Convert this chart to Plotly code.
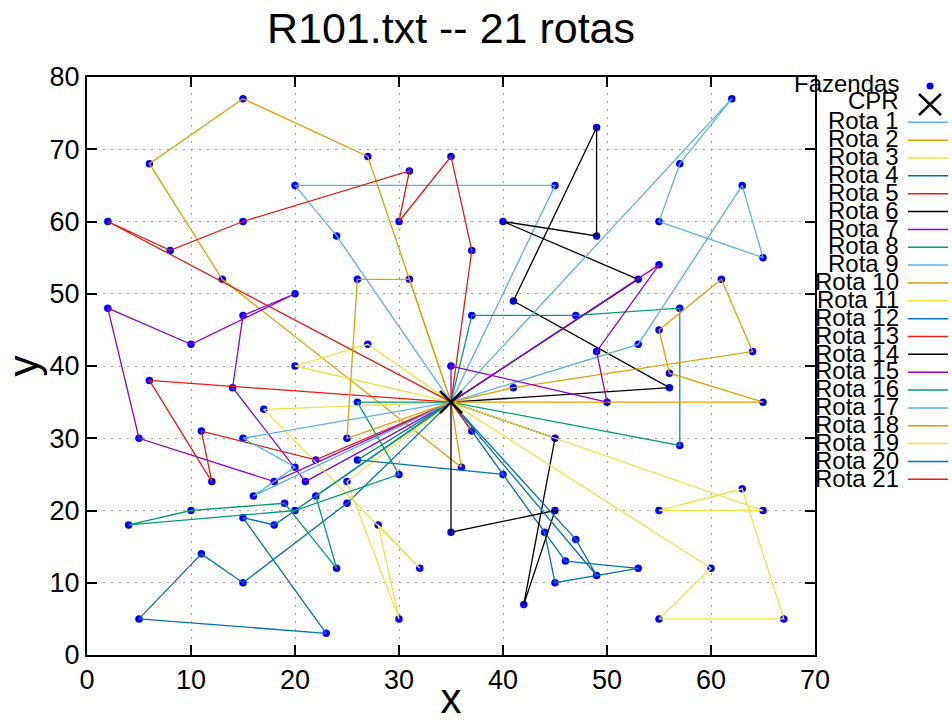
import plotly.graph_objects as go

# Solomon R101 farm coordinates (customers 1..100)
FAZ_X = [41, 35, 55, 55, 15, 25, 20, 10, 55, 30, 20, 50, 30, 15, 30, 10, 5, 20, 15, 45,
         45, 45, 55, 65, 65, 45, 35, 41, 64, 40, 31, 35, 53, 65, 63, 2, 20, 5, 60, 40,
         42, 24, 23, 11, 6, 2, 8, 13, 6, 47, 49, 27, 37, 57, 63, 53, 32, 36, 21, 17,
         12, 24, 27, 15, 62, 49, 67, 56, 37, 37, 57, 47, 44, 46, 49, 49, 53, 61, 57, 56,
         55, 15, 14, 11, 16, 4, 28, 26, 26, 31, 15, 22, 18, 26, 25, 22, 25, 19, 20, 18]
FAZ_Y = [49, 17, 45, 20, 30, 30, 50, 43, 60, 60, 65, 35, 25, 10, 5, 20, 30, 40, 60, 65,
         20, 10, 5, 35, 20, 30, 40, 37, 42, 60, 52, 69, 52, 55, 65, 60, 20, 5, 12, 25,
         7, 12, 3, 14, 38, 48, 56, 52, 68, 47, 58, 43, 31, 29, 23, 12, 12, 26, 24, 34,
         24, 58, 69, 77, 77, 73, 5, 39, 47, 56, 68, 16, 17, 13, 11, 42, 43, 52, 48, 37,
         54, 47, 37, 31, 22, 18, 18, 52, 35, 67, 19, 22, 24, 27, 24, 27, 21, 21, 26, 18]
DEPOT_X = [35]
DEPOT_Y = [35]

# Routes as sequences of farm numbers (depot at start and end)
ROUTES = [
    [62, 11, 20],
    [58, 48, 49, 64, 63],
    [52, 18],
    [97, 14, 44, 38, 43, 91, 100],
    [36, 47, 19, 90, 10, 32, 70],
    [33, 30, 51, 66, 1, 80],
    [93, 17, 46, 8, 7, 82, 83, 59],
    [69, 50, 79, 54],
    [65, 71, 9, 34, 35, 77],
    [24, 68, 3, 78, 29, 28],
    [60, 57, 87, 15, 95],
    [94, 40, 73, 22, 56, 74],
    [45, 61, 84, 96],
    [2, 21, 41, 26],
    [27, 12, 76, 81],
    [89, 13, 37, 86, 16, 98, 42, 92],
    [5, 99, 85],
    [6, 88, 31],
    [25, 4, 55, 67, 23, 39],
    [72, 75],
    [53],
]
ROUTE_NAMES = ["Rota %d" % (i + 1) for i in range(len(ROUTES))]
PALETTE = ["#56b4e9", "#e69f00", "#f0e442", "#0072b2", "#e51e10", "#000000", "#9400d3", "#009e73"]

FONT = "Liberation Sans"

fig = go.Figure()
fig.add_trace(go.Scatter(x=FAZ_X, y=FAZ_Y, mode="markers", name="Fazendas",
                         marker=dict(color="#0000ff", size=7.5), showlegend=False))

for i, r in enumerate(ROUTES):
    xs = DEPOT_X + [FAZ_X[c - 1] for c in r] + DEPOT_X
    ys = DEPOT_Y + [FAZ_Y[c - 1] for c in r] + DEPOT_Y
    fig.add_trace(go.Scatter(x=xs, y=ys, mode="lines", name=ROUTE_NAMES[i],
                             line=dict(color=PALETTE[i % 8], width=1.3), showlegend=False))

fig.add_trace(go.Scatter(x=DEPOT_X, y=DEPOT_Y, mode="markers", name="CPR",
                         marker=dict(symbol="x-thin", size=22, line=dict(color="black", width=2.5)),
                         showlegend=False))

# Manual legend (gnuplot style: right-aligned text, sample to the right)
plot_l, plot_r, plot_t, plot_b = 87, 815, 77, 655
W = plot_r - plot_l
H = plot_b - plot_t
def px(xp):
    return (xp - plot_l) / W
def py(yp):
    return (plot_b - yp) / H

text_x = px(901)
entries = [("Fazendas", 83), ("CPR", 101)] + [(n, 121 + 17.85 * i) for i, n in enumerate(ROUTE_NAMES)]
for name, yy in entries:
    fig.add_annotation(x=text_x, y=py(yy), xref="paper", yref="paper", text=name,
                       showarrow=False, xanchor="right", yanchor="middle",
                       font=dict(family=FONT, size=24, color="black"))
for i, n in enumerate(ROUTE_NAMES):
    yy = py(122.3 + 17.85 * i)
    fig.add_shape(type="line", xref="paper", yref="paper", x0=px(908), x1=px(948), y0=yy, y1=yy,
                  line=dict(color=PALETTE[i % 8], width=1.5))
# legend symbols: dot for Fazendas, X for CPR
fig.add_shape(type="circle", xref="paper", yref="paper",
              x0=px(926.5), x1=px(933.5), y0=py(89.5), y1=py(82.5),
              fillcolor="#0000ff", line=dict(color="#0000ff", width=0))
fig.add_shape(type="line", xref="paper", yref="paper", x0=px(919), x1=px(941), y0=py(94), y1=py(115),
              line=dict(color="black", width=2.5))
fig.add_shape(type="line", xref="paper", yref="paper", x0=px(919), x1=px(941), y0=py(115), y1=py(94),
              line=dict(color="black", width=2.5))

fig.update_layout(
    width=952, height=722,
    margin=dict(l=plot_l, r=952 - plot_r, t=plot_t, b=722 - plot_b, autoexpand=False),
    paper_bgcolor="white", plot_bgcolor="white",
    title=dict(text="R101.txt -- 21 rotas", x=0.5 * (plot_l + plot_r) / 952, xanchor="center",
               y=1 - 28 / 722, yanchor="middle",
               font=dict(family=FONT, size=43, color="black")),
    xaxis=dict(range=[0, 70], dtick=10, showgrid=True, gridcolor="#a0a0a0", griddash="2px,6px", gridwidth=1.3,
               showline=True, linecolor="black", linewidth=2, mirror="ticks", ticks="inside",
               ticklen=10, tickwidth=2, tickcolor="black", zeroline=False, automargin=False,
               tickfont=dict(family=FONT, size=27, color="black"),
               title=dict(text="x", font=dict(family=FONT, size=42, color="black"), standoff=8)),
    yaxis=dict(range=[0, 80], dtick=10, showgrid=True, gridcolor="#a0a0a0", griddash="2px,6px", gridwidth=1.3,
               showline=True, linecolor="black", linewidth=2, mirror="ticks", ticks="inside",
               ticklen=10, tickwidth=2, tickcolor="black", zeroline=False, automargin=False,
               tickfont=dict(family=FONT, size=27, color="black"),
               title=dict(text="y", font=dict(family=FONT, size=42, color="black"), standoff=6)),
    showlegend=False,
)

fig.write_html("out.html")
